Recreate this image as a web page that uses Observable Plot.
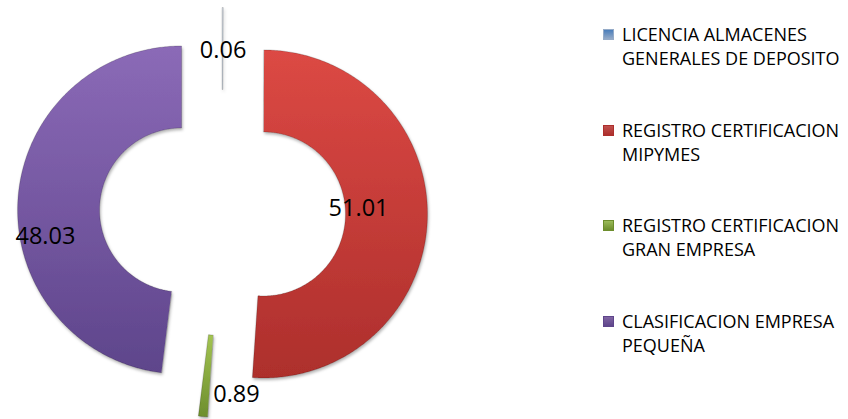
<!DOCTYPE html>
<html><head><meta charset="utf-8">
<script src="https://cdn.jsdelivr.net/npm/d3@7"></script>
<script src="https://cdn.jsdelivr.net/npm/@observablehq/plot@0.6"></script>
<style>
body{margin:0;background:#fff;}
#wrap{position:relative;width:848px;height:419px;font-family:"Open Sans",sans-serif;overflow:hidden;}
#chart{position:absolute;left:0;top:0;}
.leg{position:absolute;left:622px;font-size:18px;line-height:24px;color:#000;white-space:nowrap;}
.sw{position:absolute;left:-19px;top:7px;width:11px;height:11px;box-sizing:border-box;}
</style></head><body><div id="wrap"><div id="chart"></div></div>
<script>
// ---- data ----
const categories = [
  "LICENCIA ALMACENES GENERALES DE DEPOSITO",
  "REGISTRO CERTIFICACION MIPYMES",
  "REGISTRO CERTIFICACION GRAN EMPRESA",
  "CLASIFICACION EMPRESA PEQUEÑA"
];
const legendLines = [
  ["LICENCIA ALMACENES", "GENERALES DE DEPOSITO"],
  ["REGISTRO CERTIFICACION", "MIPYMES"],
  ["REGISTRO CERTIFICACION", "GRAN EMPRESA"],
  ["CLASIFICACION EMPRESA", "PEQUEÑA"]
];
const values = [0.06, 51.01, 0.89, 48.03];
const valueLabels = ["0.06", "51.01", "0.89", "48.03"];

// ---- style / layout ----
const gradTop =    ["#c3d1e3", "#dc4944", "#a3c452", "#8b6ab7"];
const gradBottom = ["#95abc8", "#ad2f2c", "#6d8e2d", "#5e458b"];
const legendSwatch = ["#4a7ebb", "#c0504d", "#9bbb59", "#8064a2"];
const W = 590, H = 419, K = 164, CX = 222, CY = 212;
const inner = 0.5, explode = 0.25;
// label placement: [angle (deg clockwise from top), radius] relative to donut centre
const labelPlace = [[0.2, 0.99], [88.5, 0.83], [175.6, 1.11], [262.2, 1.09]];

const total = d3.sum(values);
const pts = [];
let cum = 0;
values.forEach((v, i) => {
  const a0 = cum / total * 2 * Math.PI;
  cum += v;
  const a1 = cum / total * 2 * Math.PI;
  const m = (a0 + a1) / 2;
  const ox = explode * Math.sin(m), oy = explode * Math.cos(m);
  const n = Math.max(2, Math.ceil((a1 - a0) / 0.01));
  for (let j = 0; j <= n; j++) {
    const a = a0 + (a1 - a0) * j / n;
    pts.push({name: categories[i], x: ox + Math.sin(a), y: oy + Math.cos(a)});
  }
  for (let j = n; j >= 0; j--) {
    const a = a0 + (a1 - a0) * j / n;
    pts.push({name: categories[i], x: ox + inner * Math.sin(a), y: oy + inner * Math.cos(a)});
  }
});
const labelData = values.map((v, i) => {
  const [deg, r] = labelPlace[i];
  const a = deg * Math.PI / 180;
  return {text: valueLabels[i], x: r * Math.sin(a), y: r * Math.cos(a)};
});

const svg = Plot.plot({
  width: W, height: H,
  marginTop: 0, marginRight: 0, marginBottom: 0, marginLeft: 0,
  x: {domain: [-CX / K, (W - CX) / K], range: [0, W], axis: null},
  y: {domain: [(CY - H) / K, CY / K], range: [H, 0], axis: null},
  color: {type: "ordinal", domain: categories, range: categories.map((_, i) => `url(#g${i})`)},
  style: {fontFamily: "'Open Sans', sans-serif", background: "transparent"},
  marks: [
    Plot.line(pts, {x: "x", y: "y", z: "name", fill: "name", stroke: "#00000040", strokeWidth: 0.7, curve: "linear-closed"}),
    Plot.text(labelData, {x: "x", y: "y", text: "text", fontSize: 23.5, fill: "#000", fontFamily: "'Open Sans', sans-serif"})
  ]
});

const s = d3.select(svg);
const defs = s.insert("defs", ":first-child");
gradTop.forEach((c, i) => {
  const g = defs.append("linearGradient").attr("id", `g${i}`).attr("x1", 0).attr("y1", 0).attr("x2", 0).attr("y2", 1);
  g.append("stop").attr("offset", "0%").attr("stop-color", c);
  g.append("stop").attr("offset", "100%").attr("stop-color", gradBottom[i]);
});
const f = defs.append("filter").attr("id", "sh").attr("x", "-10%").attr("y", "-10%").attr("width", "130%").attr("height", "130%");
f.append("feDropShadow").attr("dx", 1).attr("dy", 2).attr("stdDeviation", 1.5).attr("flood-color", "#000").attr("flood-opacity", 0.3);
s.select('g[aria-label="line"]').attr("filter", "url(#sh)");

document.getElementById("chart").appendChild(svg);

const wrap = document.getElementById("wrap");
legendLines.forEach((lines, i) => {
  const d = document.createElement("div");
  d.className = "leg";
  d.style.top = (22 + i * 95.7) + "px";
  d.innerHTML = lines.join("<br>");
  const sw = document.createElement("div");
  sw.className = "sw";
  sw.style.background = `linear-gradient(${legendSwatch[i]}, ${gradBottom[i]})`;
  sw.style.border = "1px solid " + gradBottom[i];
  d.appendChild(sw);
  wrap.appendChild(d);
});
</script></body></html>
